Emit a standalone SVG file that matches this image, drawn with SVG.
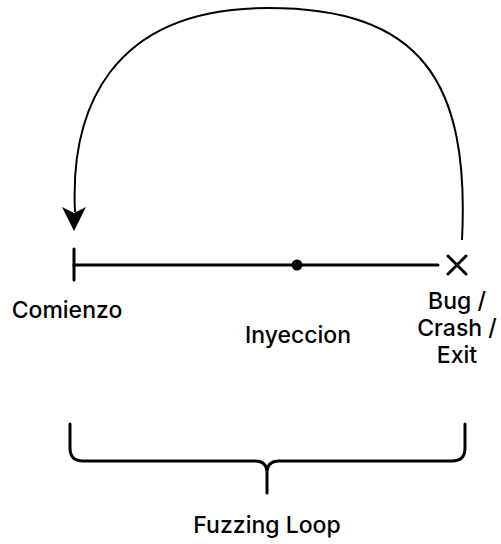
<svg xmlns="http://www.w3.org/2000/svg" width="501" height="544" viewBox="0 0 501 544">
<style>
.ln{fill:none;stroke:#000;stroke-width:3;stroke-linecap:round;stroke-linejoin:round}
.thin{fill:none;stroke:#000;stroke-width:2}
text{font-family:Inter,"Noto Sans",sans-serif;font-size:23px;font-weight:500;fill:#000;text-anchor:middle}
</style>
<rect width="501" height="544" fill="#fff"/>
<g id="connectors">
<path class="thin" d="M462,240 C470,80 420,8 268,8 C110,8 70,110 75,212"/>
<path d="M62,207 L74,231 L86,207 L74,213 Z" fill="#000"/>
<line class="ln" x1="74" y1="265" x2="438" y2="265"/>
</g>
<g id="start"><line class="ln" x1="74" y1="249" x2="74" y2="280"/><text x="67" y="318">Comienzo</text></g>
<g id="inject"><circle cx="297" cy="265" r="5.5"/><text x="298" y="343">Inyeccion</text></g>
<g id="end"><path class="ln" d="M448,256 L466,274 M466,256 L448,274"/><text x="457" y="309">Bug /</text><text x="457" y="336">Crash /</text><text x="457" y="363">Exit</text></g>
<g id="brace"><path class="ln" d="M70,424 L70,448 Q70,461 83,461 L255,461 Q267,461 267,473 Q267,461 279,461 L452,461 Q465,461 465,448 L465,424 M267,473 L267,493"/><text x="267" y="533">Fuzzing Loop</text></g>
</svg>
